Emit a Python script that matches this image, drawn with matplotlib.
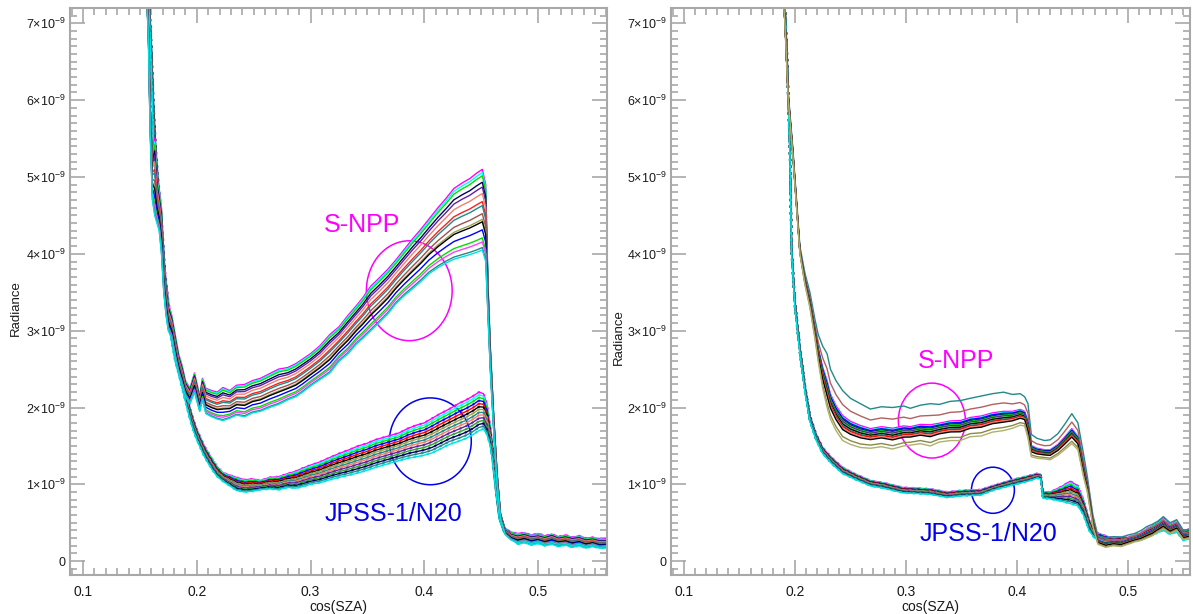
import numpy as np
import matplotlib.pyplot as plt
from matplotlib.patches import Ellipse
from matplotlib.ticker import MultipleLocator, FixedLocator, FuncFormatter

plt.rcParams['font.family'] = ['Liberation Sans', 'DejaVu Sans']
plt.rcParams['mathtext.fontset'] = 'custom'
plt.rcParams['mathtext.rm'] = 'Liberation Sans'
plt.rcParams['mathtext.it'] = 'Liberation Sans:italic'

E9 = 1e-9

x_ticks = [0.1, 0.2, 0.3, 0.4, 0.5]
y_ticks = [0, 1, 2, 3, 4, 5, 6, 7]  # units of 1e-9

# ---- left panel, S-NPP bundle (lower / upper edge, units of 1e-9) ----
l_snpp_x = [0.155, 0.1575, 0.159, 0.161, 0.163, 0.165, 0.167, 0.169, 0.171, 0.173,
            0.175, 0.178, 0.181, 0.184, 0.187, 0.190, 0.194, 0.198, 0.2026, 0.205,
            0.208, 0.213, 0.218, 0.223, 0.229, 0.235, 0.242, 0.249, 0.256, 0.264,
            0.272, 0.280, 0.287, 0.293, 0.300, 0.308, 0.317, 0.325, 0.333, 0.340,
            0.346, 0.353, 0.360, 0.368, 0.375, 0.382, 0.390, 0.397, 0.404, 0.412,
            0.419, 0.426, 0.433, 0.440, 0.446, 0.451, 0.454, 0.456, 0.458, 0.461,
            0.464, 0.467, 0.471, 0.476, 0.482, 0.488, 0.494, 0.500, 0.506, 0.512,
            0.518, 0.524, 0.530, 0.536, 0.542, 0.548, 0.554, 0.562]
l_snpp_lo = [7.7, 6.8, 5.6, 4.7, 4.5, 4.4, 4.3, 4.0, 3.5, 3.2,
             3.0, 2.9, 2.65, 2.45, 2.3, 2.15, 2.05, 2.2, 1.95, 2.1,
             1.92, 1.88, 1.85, 1.83, 1.86, 1.90, 1.88, 1.93, 1.95, 2.0,
             2.04, 2.1, 2.14, 2.2, 2.28, 2.36, 2.45, 2.6, 2.7, 2.82,
             2.9, 3.0, 3.1, 3.22, 3.35, 3.45, 3.55, 3.64, 3.74, 3.82,
             3.88, 3.93, 3.96, 3.99, 4.02, 4.05, 3.9, 3.2, 2.5, 1.7,
             1.0, 0.55, 0.35, 0.28, 0.24, 0.26, 0.23, 0.25, 0.22, 0.24,
             0.22, 0.23, 0.20, 0.22, 0.19, 0.21, 0.18, 0.19]
l_snpp_hi = [7.7, 7.0, 6.0, 5.3, 5.5, 5.0, 4.8, 4.6, 3.9, 3.6,
             3.35, 3.2, 2.95, 2.7, 2.55, 2.35, 2.25, 2.45, 2.15, 2.38,
             2.25, 2.22, 2.2, 2.26, 2.22, 2.29, 2.3, 2.35, 2.38, 2.44,
             2.5, 2.52, 2.57, 2.63, 2.7, 2.8, 2.95, 3.05, 3.2, 3.32,
             3.43, 3.58, 3.68, 3.8, 3.92, 4.05, 4.2, 4.32, 4.45, 4.6,
             4.72, 4.85, 4.92, 4.98, 5.05, 5.1, 4.9, 3.6, 2.8, 1.9,
             1.15, 0.62, 0.42, 0.36, 0.34, 0.36, 0.33, 0.34, 0.32, 0.35,
             0.31, 0.33, 0.31, 0.32, 0.29, 0.30, 0.28, 0.28]

# ---- left panel, JPSS-1/N20 bundle ----
l_jpss_x = [0.155, 0.158, 0.160, 0.162, 0.164, 0.166, 0.168, 0.170, 0.172, 0.175,
            0.178, 0.181, 0.185, 0.188, 0.191, 0.194, 0.197, 0.200, 0.203, 0.206,
            0.209, 0.214, 0.218, 0.223, 0.229, 0.235, 0.242, 0.249, 0.256, 0.264,
            0.272, 0.280, 0.287, 0.293, 0.300, 0.308, 0.317, 0.325, 0.334, 0.342,
            0.349, 0.357, 0.364, 0.371, 0.378, 0.386, 0.393, 0.400, 0.407, 0.414,
            0.422, 0.430, 0.437, 0.443, 0.448, 0.452, 0.455, 0.458, 0.460, 0.463,
            0.466, 0.470, 0.476, 0.482, 0.488, 0.494, 0.500, 0.506, 0.512, 0.518,
            0.524, 0.530, 0.536, 0.542, 0.548, 0.554, 0.562]
l_jpss_lo = [7.7, 7.2, 6.4, 5.5, 5.0, 4.6, 4.3, 3.9, 3.5, 3.1,
             2.85, 2.6, 2.38, 2.2, 2.02, 1.85, 1.7, 1.58, 1.48, 1.38,
             1.3, 1.18, 1.1, 1.04, 0.98, 0.92, 0.9, 0.91, 0.93, 0.94,
             0.93, 0.96, 0.95, 0.97, 1.0, 1.02, 1.06, 1.09, 1.12, 1.15,
             1.18, 1.22, 1.25, 1.28, 1.31, 1.34, 1.36, 1.38, 1.41, 1.46,
             1.52, 1.56, 1.6, 1.65, 1.7, 1.72, 1.65, 1.5, 1.3, 0.9,
             0.55, 0.38, 0.3, 0.22, 0.24, 0.21, 0.23, 0.2, 0.22, 0.19,
             0.21, 0.18, 0.2, 0.17, 0.19, 0.17, 0.17]
l_jpss_hi = [7.7, 7.4, 6.8, 6.0, 5.4, 5.0, 4.7, 4.3, 3.8, 3.4,
             3.1, 2.85, 2.58, 2.38, 2.2, 2.0, 1.85, 1.72, 1.62, 1.52,
             1.44, 1.32, 1.23, 1.15, 1.12, 1.09, 1.06, 1.07, 1.05, 1.09,
             1.1, 1.14, 1.17, 1.21, 1.25, 1.29, 1.35, 1.4, 1.45, 1.5,
             1.53, 1.58, 1.61, 1.64, 1.67, 1.73, 1.77, 1.8, 1.86, 1.92,
             1.98, 2.05, 2.1, 2.15, 2.2, 2.18, 2.05, 1.75, 1.5, 1.02,
             0.62, 0.44, 0.38, 0.36, 0.37, 0.34, 0.36, 0.33, 0.35, 0.32,
             0.34, 0.31, 0.33, 0.3, 0.31, 0.29, 0.29]

# ---- right panel, S-NPP bundle ----
r_snpp_x = [0.188, 0.191, 0.194, 0.198, 0.2045, 0.209, 0.2135, 0.218, 0.221, 0.225,
            0.229, 0.232, 0.237, 0.243, 0.250, 0.259, 0.268, 0.278, 0.288, 0.298,
            0.304, 0.313, 0.322, 0.330, 0.340, 0.349, 0.358, 0.368, 0.378, 0.388,
            0.396, 0.403, 0.407, 0.410, 0.413, 0.418, 0.425, 0.430, 0.437, 0.443,
            0.4495, 0.455, 0.460, 0.4635, 0.4685, 0.473, 0.480, 0.487, 0.494, 0.500,
            0.506, 0.512, 0.517, 0.522, 0.527, 0.532, 0.538, 0.544, 0.550, 0.556, 0.562]
r_snpp_lo = [7.6, 7.0, 6.0, 5.3, 4.0, 3.6, 3.3, 2.9, 2.6, 2.25,
             2.0, 1.85, 1.7, 1.57, 1.52, 1.48, 1.47, 1.49, 1.46, 1.5,
             1.51, 1.53, 1.5, 1.55, 1.57, 1.57, 1.62, 1.63, 1.68, 1.7,
             1.73, 1.77, 1.76, 1.6, 1.36, 1.34, 1.33, 1.32, 1.38, 1.45,
             1.53, 1.45, 1.1, 0.9, 0.45, 0.22, 0.18, 0.2, 0.19, 0.22,
             0.25, 0.27, 0.3, 0.33, 0.38, 0.42, 0.36, 0.4, 0.28, 0.3, 0.26]
r_snpp_hi = [7.6, 7.1, 6.1, 5.4, 4.1, 3.75, 3.5, 3.15, 2.95, 2.8,
             2.7, 2.5, 2.35, 2.22, 2.12, 2.05, 1.98, 2.01, 2.0, 2.02,
             1.99, 2.03, 2.05, 2.04, 2.08, 2.09, 2.12, 2.15, 2.18, 2.2,
             2.17, 2.18, 2.14, 2.05, 1.65, 1.6, 1.57, 1.58, 1.66, 1.78,
             1.92, 1.8, 1.4, 1.1, 0.6, 0.33, 0.3, 0.32, 0.31, 0.34,
             0.36, 0.4, 0.45, 0.48, 0.52, 0.58, 0.5, 0.54, 0.4, 0.42, 0.38]

# ---- right panel, JPSS-1/N20 bundle ----
r_jpss_x = [0.190, 0.193, 0.1955, 0.197, 0.200, 0.2045, 0.209, 0.2135, 0.219, 0.225,
            0.233, 0.243, 0.255, 0.268, 0.280, 0.297, 0.310, 0.322, 0.337, 0.350,
            0.367, 0.380, 0.396, 0.410, 0.418, 0.4215, 0.4235, 0.430, 0.440, 0.448,
            0.455, 0.460, 0.465, 0.470, 0.480, 0.487, 0.494, 0.500, 0.506, 0.512,
            0.517, 0.522, 0.527, 0.532, 0.538, 0.544, 0.550, 0.556, 0.562]
r_jpss_lo = [7.6, 6.4, 5.3, 4.0, 3.3, 2.7, 2.2, 1.82, 1.58, 1.4,
             1.27, 1.14, 1.06, 0.98, 0.95, 0.89, 0.88, 0.87, 0.83, 0.85,
             0.86, 0.93, 0.99, 1.04, 1.08, 1.07, 0.82, 0.81, 0.78, 0.75,
             0.72, 0.6, 0.4, 0.3, 0.25, 0.22, 0.24, 0.23, 0.26, 0.28,
             0.31, 0.34, 0.37, 0.4, 0.35, 0.38, 0.27, 0.29, 0.25]
r_jpss_hi = [7.6, 6.6, 5.4, 4.1, 3.4, 2.8, 2.3, 1.9, 1.66, 1.48,
             1.35, 1.22, 1.13, 1.05, 1.02, 0.96, 0.95, 0.94, 0.9, 0.92,
             0.93, 0.99, 1.06, 1.11, 1.14, 1.13, 0.9, 0.9, 0.97, 1.04,
             0.98, 0.8, 0.55, 0.38, 0.33, 0.3, 0.32, 0.31, 0.34, 0.37,
             0.42, 0.46, 0.5, 0.56, 0.48, 0.52, 0.4, 0.42, 0.37]

# individual spectra: position inside the bundle (0 = lower edge, 1 = upper edge)
l_snpp_pos = [1.0, 0.96, 0.92, 0.84, 0.78, 0.7, 0.6, 0.55, 0.45, 0.38, 0.35, 0.25, 0.15, 0.1, 0.03, 0.0]
l_snpp_col = ['#ff00ff', '#00ffff', '#00e000', '#000060', '#6020a0', '#f08070', '#ff2020', '#208a8a',
              '#a05050', '#a0a050', '#000000', '#0000ff', '#00e000', '#ff40ff', '#208a8a', '#00e0e0']
r_snpp_pos = [1.0, 0.72, 0.5, 0.47, 0.45, 0.42, 0.4, 0.38, 0.35, 0.33, 0.3, 0.28, 0.25, 0.22, 0.08, 0.0]
r_snpp_col = ['#208a8a', '#b06060', '#ff00ff', '#00ffff', '#0000ff', '#000060', '#00e000', '#6020a0',
              '#30c030', '#000000', '#208a8a', '#ff0000', '#f08070', '#000000', '#8a8a40', '#b0b070']
jpss_pos = [1.0, 0.93, 0.86, 0.78, 0.7, 0.62, 0.55, 0.47, 0.4, 0.32, 0.24, 0.16, 0.08, 0.0]
jpss_col = ['#ff00ff', '#00ffff', '#00e000', '#0000ff', '#ff0000', '#000000', '#a0a050',
            '#208a8a', '#f08070', '#6020a0', '#30a030', '#000060', '#208a8a', '#00e0e0']


def draw_bundle(ax, x, lo, hi, pos, cols, speckle=False):
    x = np.array(x)
    lo = np.array(lo)
    hi = np.array(hi)
    for f, c in zip(pos, cols):
        y = (lo + f * (hi - lo)) * E9
        ax.plot(x, y, color=c, lw=1.0)
        if speckle:
            # the N20 spectra also show their samples as small dots
            ax.plot(x, y, color=c, lw=1.6, ls=(0, (1, 2)), alpha=0.8)


def yfmt(v, p):
    n = int(round(v / E9))
    if n == 0:
        return '0'
    return r'$%d{\times}10^{-9}$' % n


def style_axes(ax, xlim, ylab_pos):
    ax.set_xlim(*xlim)
    ax.set_ylim(-0.18 * E9, 7.2 * E9)
    ax.xaxis.set_major_locator(FixedLocator(x_ticks))
    ax.xaxis.set_minor_locator(MultipleLocator(0.01))
    ax.yaxis.set_major_locator(FixedLocator([t * E9 for t in y_ticks]))
    ax.yaxis.set_minor_locator(MultipleLocator(0.1 * E9))
    ax.xaxis.set_major_formatter(FuncFormatter(lambda v, p: '%.1f' % v))
    ax.yaxis.set_major_formatter(FuncFormatter(yfmt))
    ax.tick_params(which='both', direction='in', top=True, right=True, color='#a8a8a8',
                   labelcolor='#1a1a1a', width=1.2)
    ax.tick_params(axis='x', labelsize=10, pad=7)
    ax.tick_params(axis='y', labelsize=9, pad=3)
    ax.tick_params(which='major', length=11)
    ax.tick_params(which='minor', length=5)
    for s in ax.spines.values():
        s.set_color('#a8a8a8')
        s.set_linewidth(1.5)
    ax.set_xlabel('cos(SZA)', fontsize=10, color='#1a1a1a')
    ax.set_ylabel('Radiance', fontsize=9.5, color='#1a1a1a')
    ax.xaxis.set_label_coords(0.5, -0.044)
    ax.yaxis.set_label_coords(ylab_pos[0], ylab_pos[1])


fig = plt.figure(figsize=(11.93, 6.14), dpi=100)
ax1 = fig.add_axes([0.0587, 0.0635, 0.450, 0.9235])
ax2 = fig.add_axes([0.5624, 0.0635, 0.435, 0.9235])

draw_bundle(ax1, l_jpss_x, l_jpss_lo, l_jpss_hi, jpss_pos, jpss_col, speckle=True)
draw_bundle(ax1, l_snpp_x, l_snpp_lo, l_snpp_hi, l_snpp_pos, l_snpp_col)
draw_bundle(ax2, r_jpss_x, r_jpss_lo, r_jpss_hi, jpss_pos, jpss_col, speckle=True)
draw_bundle(ax2, r_snpp_x, r_snpp_lo, r_snpp_hi, r_snpp_pos, r_snpp_col)

style_axes(ax1, (0.0886, 0.5605), (-0.089, 0.47))
style_axes(ax2, (0.0883, 0.5559), (-0.089, 0.42))

# annotations
ax1.add_patch(Ellipse((0.3868, 3.52 * E9), 0.0754, 1.30 * E9, fill=False, ec='#ff00ff', lw=1.1))
ax1.add_patch(Ellipse((0.4053, 1.56 * E9), 0.072, 1.13 * E9, fill=False, ec='#0000ee', lw=1.1))
ax1.text(0.345, 4.38 * E9, 'S-NPP', color='#ff00ff', fontsize=18, ha='center', va='center')
ax1.text(0.373, 0.62 * E9, 'JPSS-1/N20', color='#0000ee', fontsize=18, ha='center', va='center')

ax2.add_patch(Ellipse((0.3234, 1.83 * E9), 0.0604, 0.975 * E9, fill=False, ec='#ff00ff', lw=1.1))
ax2.add_patch(Ellipse((0.3784, 0.923 * E9), 0.0387, 0.60 * E9, fill=False, ec='#0000ee', lw=1.1))
ax2.text(0.345, 2.6 * E9, 'S-NPP', color='#ff00ff', fontsize=18, ha='center', va='center')
ax2.text(0.3748, 0.36 * E9, 'JPSS-1/N20', color='#0000ee', fontsize=18, ha='center', va='center')

fig.savefig('out.png', dpi=100)
